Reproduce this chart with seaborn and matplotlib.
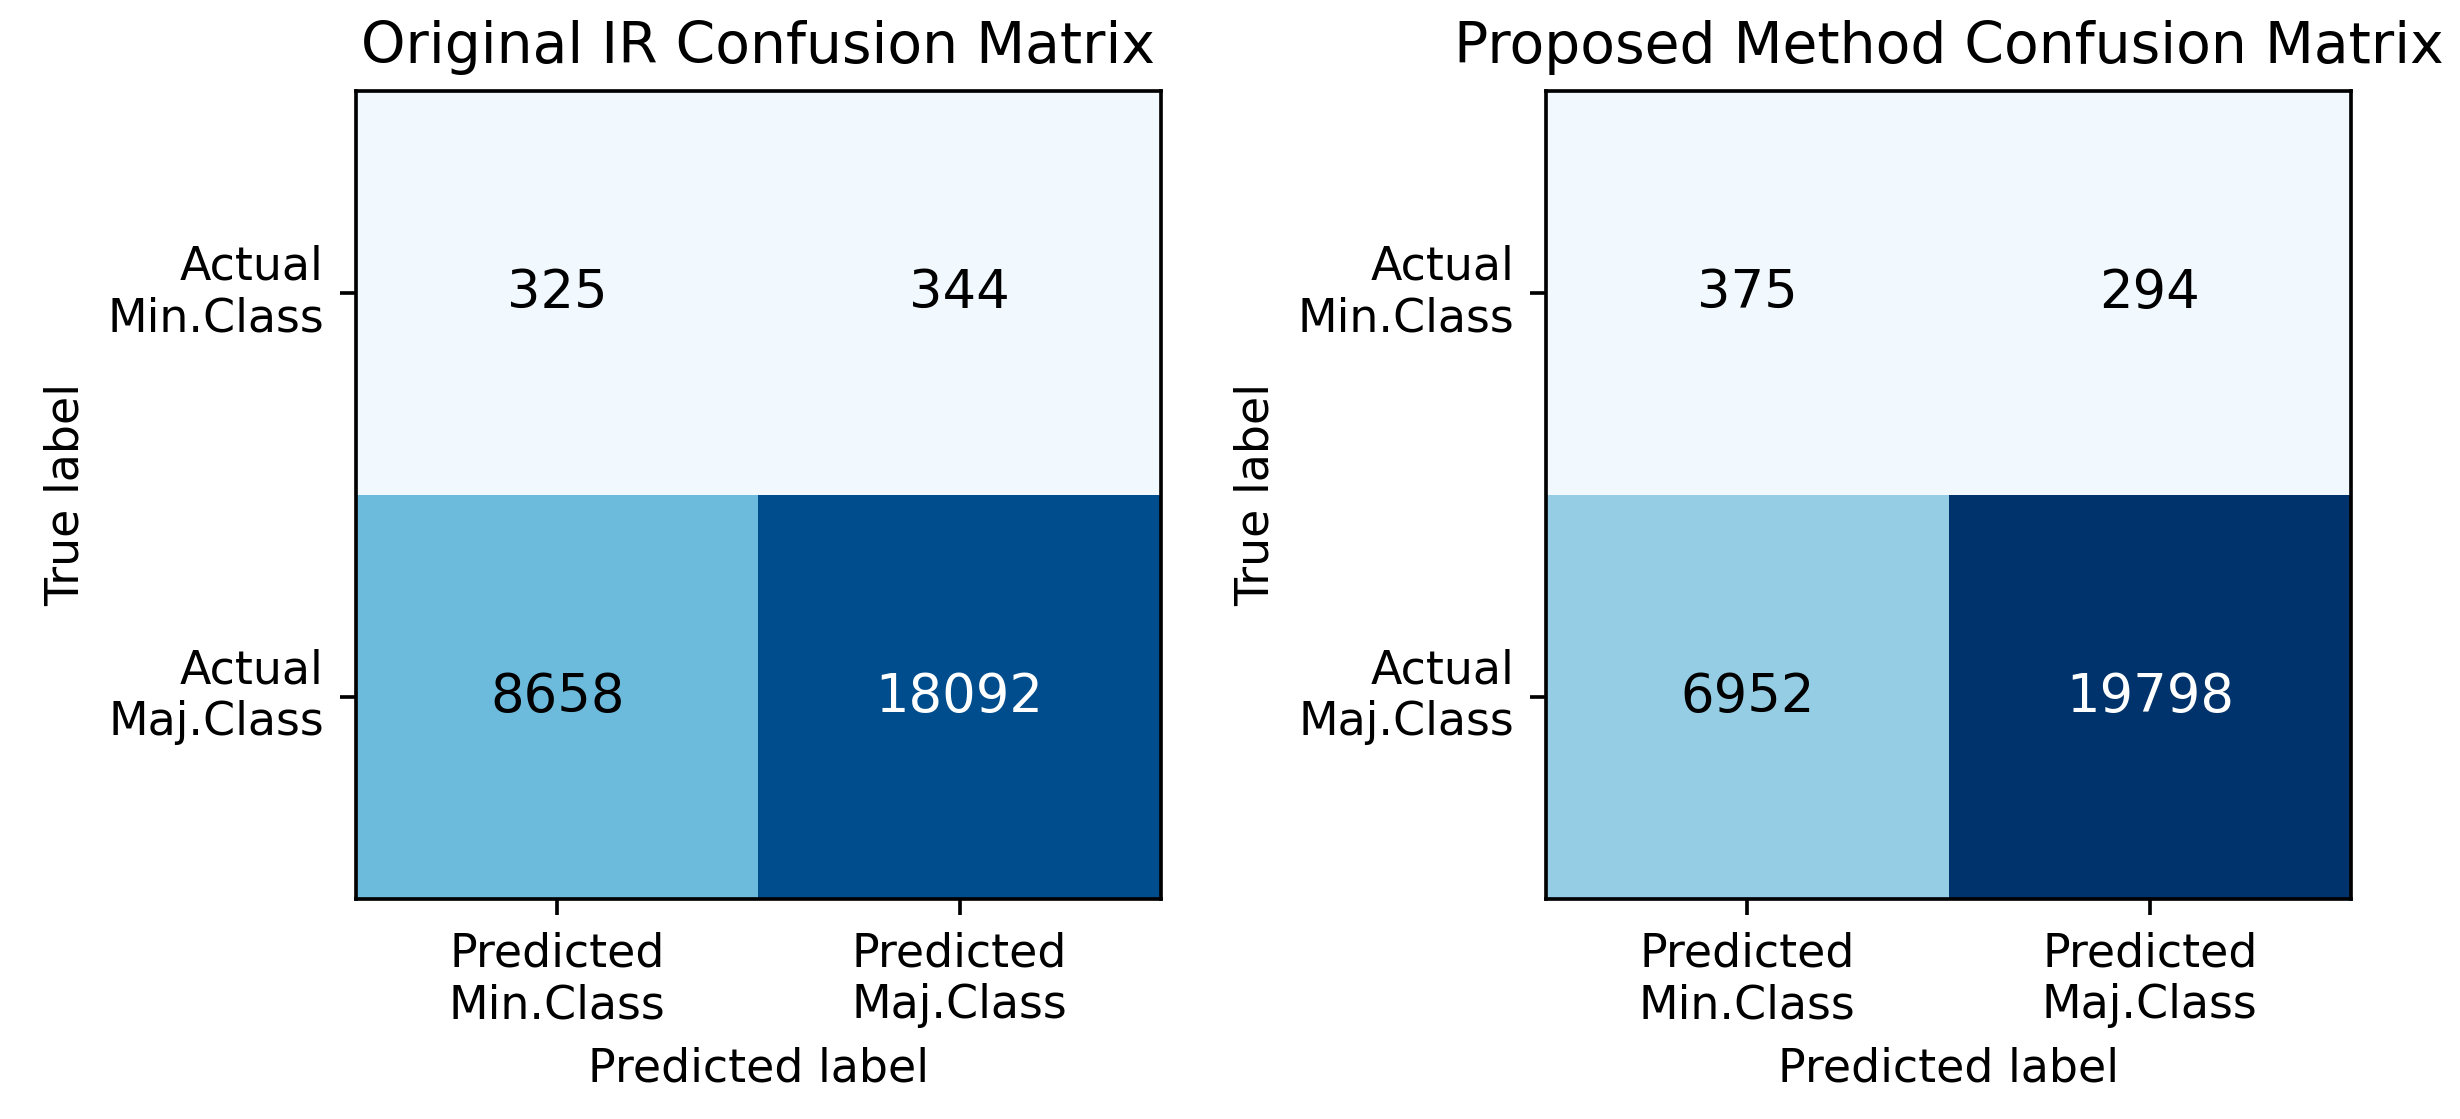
import numpy as np
import pandas as pd
import matplotlib
matplotlib.use("Agg")
import matplotlib.pyplot as plt
import matplotlib.colors as mcolors
import seaborn as sns

# confusion matrix data (rows: true, cols: predicted)
true_labels = ["Actual\nMin.Class", "Actual\nMaj.Class"]
pred_labels = ["Predicted\nMin.Class", "Predicted\nMaj.Class"]
titles = ["Original IR Confusion Matrix", "Proposed Method Confusion Matrix"]
cm_original = [[325, 344], [8658, 18092]]
cm_proposed = [[375, 294], [6952, 19798]]

plt.rcParams['font.family'] = ['DejaVu Sans']

# Blues, a little more saturated / cyan like the reference image
base = plt.get_cmap("Blues")(np.linspace(0, 1, 256))[:, :3]
hsv = mcolors.rgb_to_hsv(base)
hsv[:, 0] = np.clip(hsv[:, 0] - 0.012, 0, 1)
hsv[:, 1] = np.clip(hsv[:, 1] * 1.3, 0, 1)
cmap = mcolors.ListedColormap(mcolors.hsv_to_rgb(hsv))

fig = plt.figure(figsize=(2460 / 330, 1119 / 330), dpi=330)
positions = [[0.1447, 0.1966, 0.3272, 0.7221],
             [0.6285, 0.1966, 0.3272, 0.7221]]

# shared colour scale for both matrices
vmax = max(np.max(cm_original), np.max(cm_proposed))

for cm, title, pos in zip([cm_original, cm_proposed], titles, positions):
    ax = fig.add_axes(pos)
    df = pd.DataFrame(cm, index=true_labels, columns=pred_labels)
    sns.heatmap(df, ax=ax, cmap=cmap, vmin=0, vmax=vmax, cbar=False,
                annot=True, fmt="d", annot_kws={"size": 11.5})
    for t in ax.texts:
        if t.get_color() != "w":
            t.set_color("black")
    ax.set_yticklabels(true_labels, rotation=0, va="center")
    ax.set_xticklabels(pred_labels, rotation=0)
    for s in ax.spines.values():
        s.set_visible(True)
        s.set_linewidth(0.8)
        s.set_color("black")
    ax.set_title(title, fontsize=12.4, pad=6)
    ax.set_xlabel("Predicted label", fontsize=10)
    ax.set_ylabel("True label", fontsize=10)
    ax.tick_params(length=3.5, width=0.8, labelsize=10)

fig.savefig("out.png", dpi=330)
